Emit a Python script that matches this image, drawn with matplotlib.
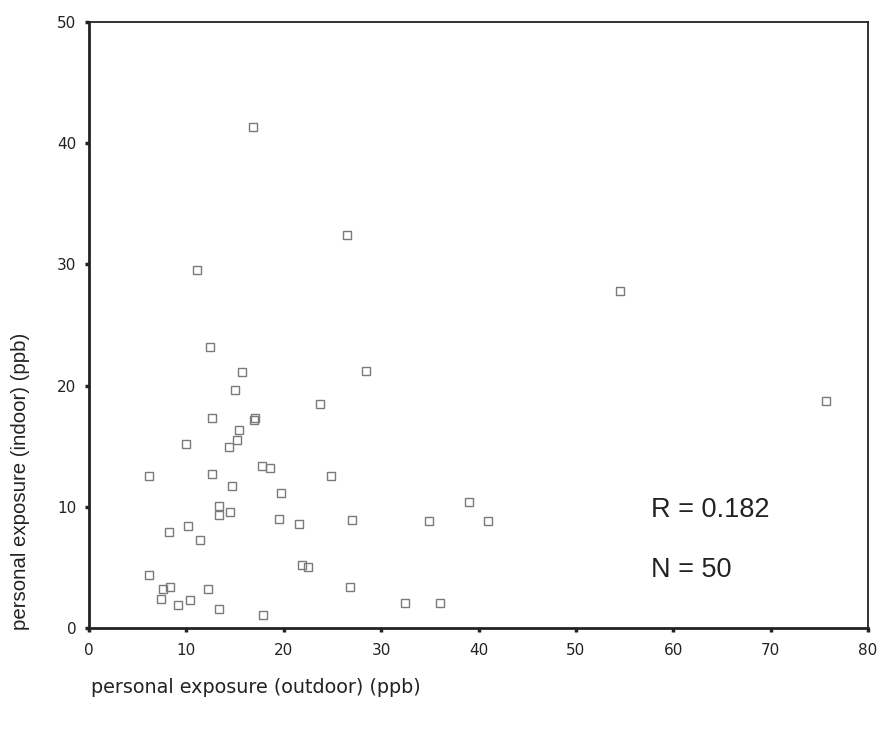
import matplotlib.pyplot as plt

# personal exposure, outdoor vs indoor (ppb)
outdoor = [15.0, 12.6, 16.9, 17.0, 15.4, 10.0, 15.2, 14.4, 6.2, 12.6,
           17.8, 18.6, 14.7, 19.7, 13.3, 13.3, 14.5, 19.5, 21.6, 8.2,
           10.2, 11.4, 21.9, 22.5, 6.2, 7.6, 8.3, 7.4, 9.1, 10.4,
           12.2, 13.3, 17.9, 27.0, 39.0, 34.9, 41.0, 26.8, 32.5, 36.0,
           16.8, 26.5, 11.1, 12.4, 15.7, 28.4, 54.5, 75.7, 23.7, 24.9]
indoor = [19.6, 17.3, 17.2, 17.3, 16.3, 15.2, 15.5, 14.9, 12.5, 12.7,
          13.4, 13.2, 11.7, 11.1, 10.1, 9.3, 9.6, 9.0, 8.6, 7.9,
          8.4, 7.3, 5.2, 5.0, 4.4, 3.2, 3.4, 2.4, 1.9, 2.3,
          3.2, 1.6, 1.1, 8.9, 10.4, 8.8, 8.8, 3.4, 2.1, 2.1,
          41.3, 32.4, 29.5, 23.2, 21.1, 21.2, 27.8, 18.7, 18.5, 12.5]

xticks = [0, 10, 20, 30, 40, 50, 60, 70, 80]
yticks = [0, 10, 20, 30, 40, 50]

fig = plt.figure(figsize=(8.79, 7.31), dpi=100)
ax = fig.add_axes([0.1013, 0.1409, 0.8862, 0.8291])

ax.plot(outdoor, indoor, linestyle='none', marker='s', markersize=6.3,
        markerfacecolor='none', markeredgecolor='#7a7a7a', markeredgewidth=1.0)

ax.set_xlim(0, 80)
ax.set_ylim(0, 50)
ax.set_xticks(xticks)
ax.set_yticks(yticks)
ax.tick_params(axis='both', direction='out', length=3, width=2.5, color='#222222',
               labelsize=11, labelcolor='#222222')
ax.tick_params(axis='x', pad=8)
ax.tick_params(axis='y', pad=6)

for s in ['left', 'bottom']:
    ax.spines[s].set_linewidth(2.0)
    ax.spines[s].set_color('#222222')
for s in ['top', 'right']:
    ax.spines[s].set_linewidth(1.3)
    ax.spines[s].set_color('#222222')

ax.text(0.722, 0.195, 'R = 0.182', transform=ax.transAxes, fontsize=19.5,
        family='Liberation Sans', color='#222222', va='center')
ax.text(0.722, 0.096, 'N = 50', transform=ax.transAxes, fontsize=19.5,
        family='Liberation Sans', color='#222222', va='center')

fig.text(0.023, 0.342, 'personal exposure (indoor) (ppb)', fontsize=14.7,
         family='Liberation Sans', color='#222222', rotation=90,
         ha='center', va='center')
fig.text(0.103, 0.059, 'personal exposure (outdoor) (ppb)', fontsize=13.8,
         color='#222222', va='center', ha='left')

fig.savefig('out.png', dpi=100)
